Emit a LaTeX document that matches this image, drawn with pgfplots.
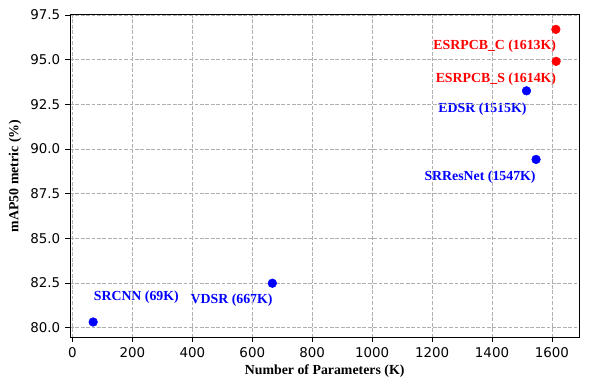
\documentclass[border=0pt]{standalone}
\usepackage{fontspec}
\setmainfont{Liberation Serif}
\newfontfamily\tickfont{DejaVu Sans}
\usepackage{pgfplots}
\pgfplotsset{compat=1.18}
\definecolor{gridgray}{RGB}{176,176,176}
\begin{document}
\begin{tikzpicture}
\begin{axis}[
  at={(0,0)}, anchor=south west,
  scale only axis,
  width=366.7bp, height=232.3bp,
  xmin=-8.25, xmax=1691.25,
  ymin=79.46, ymax=97.52,
  xtick={0,200,...,1600},
  ytick={80,82.5,...,97.5},
  tick pos=left,
  tick align=outside,
  major tick length=3.5bp,
  axis line style={line width=0.6bp},
  every tick/.style={black, line width=0.6bp},
  grid=major,
  major grid style={gridgray, line width=0.6bp, dash pattern=on 2.7bp off 1.2bp},
  axis on top,
  /pgf/number format/assume math mode=true,
  ticklabel style={font=\tickfont\fontsize{9.7}{11}\selectfont},
  xticklabel style={/pgf/number format/.cd, fixed, 1000 sep={}},
  yticklabel style={/pgf/number format/.cd, fixed, fixed zerofill, precision=1},
  xlabel={Number of Parameters (K)},
  ylabel={mAP50 metric (\%)},
  every axis x label/.style={at={(rel axis cs:0.5,0)}, yshift=-24.4bp, anchor=center, font=\bfseries\fontsize{10}{12}\selectfont},
  every axis y label/.style={at={(rel axis cs:0,0.5)}, xshift=-39.6bp, anchor=center, rotate=90, font=\bfseries\fontsize{10}{12}\selectfont},
]
\addplot[only marks, mark=*, mark size=3.1bp, blue, mark options={draw=blue, fill=blue}] coordinates {
  (69,80.32) (667,82.49) (1515,93.26) (1547,89.42)
};
\addplot[only marks, mark=*, mark size=3.1bp, red, mark options={draw=red, fill=red}] coordinates {
  (1613,96.70) (1614,94.91)
};
\begin{scope}[every node/.style={font=\bfseries\fontsize{10}{12}\selectfont, anchor=center, inner sep=0pt}]
\node[blue] at (axis cs:213,81.70) {SRCNN (69K)};
\node[blue] at (axis cs:531,81.55) {VDSR (667K)};
\node[blue] at (axis cs:1368,92.26) {EDSR (1515K)};
\node[blue] at (axis cs:1360,88.45) {SRResNet (1547K)};
\node[red] at (axis cs:1409,95.77) {ESRPCB\_C (1613K)};
\node[red] at (axis cs:1413,93.92) {ESRPCB\_S (1614K)};
\end{scope}
\end{axis}
\pgfresetboundingbox
\path[use as bounding box] (-50.4bp,-37.2bp) rectangle (374.4bp,242.9bp);
\end{tikzpicture}
\end{document}
